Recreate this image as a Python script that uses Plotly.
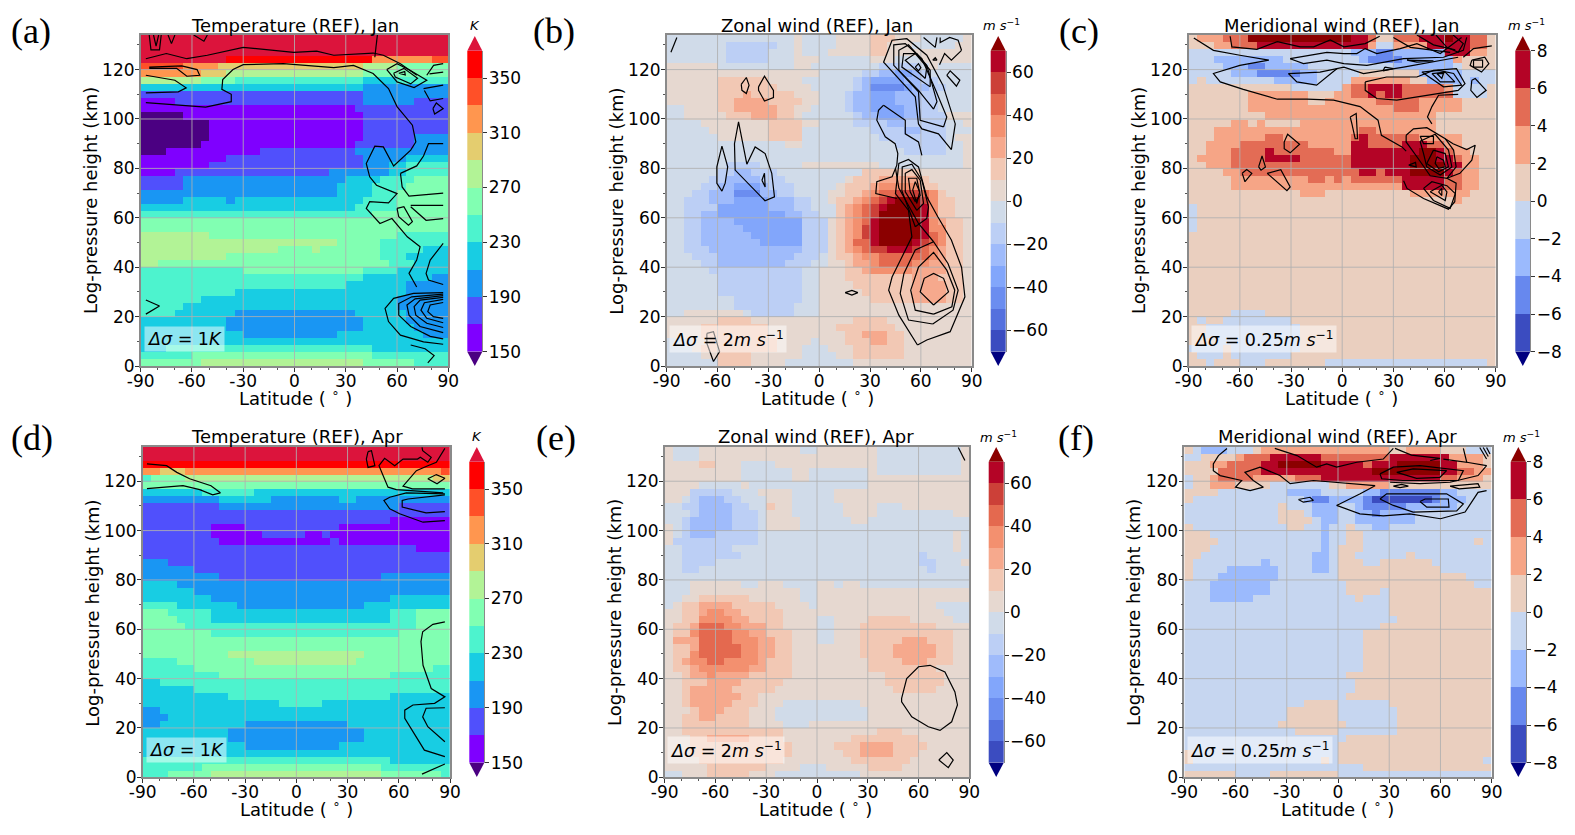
import numpy as np
import plotly.graph_objects as go

W, H = 1575, 835
LATS = [-87.5 + 5 * i for i in range(36)]
DZ = 134 / 47
HEIGHTS = [(k + 0.5) * DZ for k in range(47)]
LAT_TICKS = [-90, -60, -30, 0, 30, 60, 90]
KM_TICKS = [0, 20, 40, 60, 80, 100, 120]

# Each row: value, lat where it ends, value, lat where it ends, ..., last value. Bottom row first.
T_JAN = [
[260,-55,280,40,260,70,240],[240,-60,260,45,240],[220,-75,240,45,220],[220],[220,-30,200,25,220,75,200],
[220,-40,200,40,220,70,200],[220,-40,200,40,220,65,200],[240,-70,220,-35,200,35,220,65,200],[240,-65,220,60,200],
[240,-55,220,60,200],[240,-35,220,65,200],[240,30,220,65,200],[240,40,220,80,200],[240,-30,260,40,240,60,220],
[280,-80,260,55,240,70,220],[280,-40,260,50,240,65,220],[280,-10,260,10,280,15,260,50,240,75,220],[280,25,260,50,240],
[280,-50,260,60,240],[260],[260],[240,45,260],[220,35,240,60,260],[200,-65,220,-40,200,-35,220,40,240,60,260],
[200,25,220,45,240,60,260],[180,-65,200,25,220,45,240,65,260],[180,-65,200,30,220,50,240,70,260],
[160,-70,180,20,200,55,220,65,240],[160,-50,180,40,200,55,220,65,240],[160,-40,180,40,200,65,220],
[140,-75,160,-20,180,35,200],[140,-55,160,35,180,70,200],[140,-50,160,40,180,70,200],[140,-50,160,40,180],
[140,-50,160,40,180],[140,-65,160,40,180],[160,35,180],[160,-70,180,40,200,70,180],[180,40,200],[220,40,200],
[280,-55,260,-35,240,40,220,60,240],[320,-55,300,-40,280,40,260],[340,-65,320,-45,300,40,280,60,260],
[380,-40,360,45,320,80,340],[380],[380],[380],
]
U_JAN = [
[-5,-60,15,-40,5,-20,-5,20,5],[-5,-70,5,-60,15,-40,5,-10,-5,10,5,20,15,50,5],[-5,-75,5,-70,15,-25,5,-10,-5,5,5,20,15,50,5],
[-5,-75,5,-65,15,-25,5,-5,-5,0,5,15,15,30,25,40,15,50,5],[5,-70,15,-30,5,15,15,25,25,40,15,50,5],[5,-70,15,-30,5,10,15,45,5],
[5,-60,15,-40,5,20,15,40,5],[-5,-80,5,-45,-5,-40,-15,-15,-5,0,5],[-5,-50,-15,-15,-5,0,5],
[-5,-50,-15,-10,-5,0,5,30,15,55,25,75,15,85,5],[-5,-60,-15,-10,-5,0,5,25,15,55,25,75,15,85,5],
[-5,-60,-15,-10,-5,0,5,20,15,55,25,75,15,85,5],[-5,-60,-15,-10,-5,0,5,15,15,55,25,70,15,85,5],
[-5,-65,-15,-10,-5,0,5,15,15,25,25,30,35,55,25,75,15,85,5],
[-5,-70,-15,-60,-25,-20,-15,-5,-5,5,5,15,15,20,25,30,35,35,45,55,35,65,25,75,15,85,5],
[-5,-75,-15,-60,-25,-15,-15,0,-5,5,5,10,15,20,25,25,35,35,45,65,35,70,25,75,15,85,5],
[-5,-80,-15,-65,-25,-10,-15,5,5,10,15,15,25,20,35,25,45,30,55,40,65,55,55,60,45,65,35,70,25,75,15,85,5],
[-5,-80,-15,-70,-25,-35,-35,-10,-15,5,5,10,15,15,25,20,45,30,65,35,75,55,65,60,55,65,45,70,35,75,15,85,5],
[-5,-80,-15,-70,-25,-40,-35,-10,-15,5,5,10,15,15,25,20,35,25,55,30,65,35,75,60,65,65,45,70,35,75,15,85,5],
[-5,-80,-15,-70,-25,-45,-35,-10,-15,5,5,10,15,15,25,20,35,25,55,30,65,35,75,60,65,65,35,75,15,85,5],
[-5,-80,-15,-70,-25,-50,-35,-10,-15,5,5,10,15,15,25,20,35,25,45,30,65,35,75,60,65,65,35,70,25,75,15,85,5],
[-5,-80,-15,-70,-25,-60,-35,-20,-25,-10,-15,0,-5,10,15,15,25,20,35,25,45,30,55,35,75,60,65,65,35,70,15,80,5],
[-5,-80,-15,-60,-35,-30,-25,-15,-15,-5,-5,10,15,15,25,20,35,25,45,30,55,35,65,40,75,60,65,65,35,70,15,80,5],
[-5,-80,-15,-65,-25,-50,-35,-30,-25,-15,-15,-5,-5,5,5,10,15,20,25,25,35,30,45,35,55,40,65,45,75,60,55,65,35,70,15,80,5],
[-5,-75,-15,-65,-25,-50,-45,-35,-25,-25,-15,-15,-5,5,5,15,15,25,25,30,35,35,45,45,55,60,45,65,35,70,15,75,5],
[-5,-70,-15,-60,-25,-50,-35,-35,-25,-30,-15,-15,-5,10,5,15,15,30,25,35,35,60,15,70,5],
[-5,-65,-15,-55,-25,-35,-15,-20,-5,15,5,20,15,35,25,60,15,65,5],[-5,-60,-15,-50,-25,-40,-15,-25,-5,25,5,25,15,60,5],
[-5,-55,-15,-35,-5,-10,5,35,-5,85,5],[-5,85,5],[-5,50,-15,75,-5,85,5],[-5,-20,5,-10,-5,45,-15,75,-5,85,5],
[-5,-60,5,-30,15,-10,-5,35,-15,75,-5,80,5],[-5,-65,5,-30,15,-10,-5,30,-15,50,-25,60,-15,75,-5],
[-5,-70,5,-30,15,-10,5,0,-5,20,-15,40,-25,50,-15,75,-5,85,5],[-5,-80,5,-55,15,-40,25,-25,15,-15,5,-10,-5,20,-15,25,-25,35,-35,50,-25,60,-15,75,5],
[-5,-80,5,-60,15,-50,25,-25,15,-15,5,-5,-5,15,-15,20,-25,30,-35,50,-25,60,-15,70,-5],
[5,-60,15,-50,25,-30,15,-10,5,0,-5,15,-15,20,-25,30,-35,45,-25,60,-15,70,-5],
[5,-60,15,-45,25,-40,15,-15,5,0,-5,15,-15,20,-25,30,-35,45,-25,60,-15,70,-5],
[5,-60,15,-25,5,-5,-5,20,-15,25,-25,30,-45,50,-35,55,-25,65,-15,75,-5],
[5,-60,15,-30,5,-10,-5,20,-15,25,-25,30,-35,50,-25,60,-15,70,-5],[5,0,-5,25,-15,35,-25,45,-35,55,-25,60,-15,65,-5],
[5,-60,-5,-15,5,-5,-5,35,-15,60,-5,65,5,70,-5],[-5,-55,-15,-30,-5,-15,5,0,-5,30,5,45,-5,60,5],
[-5,-55,-15,-30,-5,-15,5,-10,-5,5,5,30,15,40,5],[-5,-55,-15,-25,-5,-15,5,-10,-5,10,5,30,15,40,5,55,-5,80,5],
[-5,-15,5,-10,-5,10,5,30,15,45,5,60,-5,85,5],
]
V_JAN = [
[1,-80,-1,-75,1,-60,-1,-45,1,-10,-1,85,1],[1,-85,-1,-70,1,-65,-1,-30,1],[-1,-70,1,-65,-1,-25,1],[1,-75,-1,-25,1],[1,-80,-1,-25,1],
[1,-80,-1,-25,1],[1,-85,-1,-80,1,-70,-1,-30,1],[1,-65,-1,-45,1],[1],[1],[1],[1],[1],[1],[1],[1],[1],[1],[1],
[-1,-85,1],[-1,-85,1],[-1,-85,1],[-1,-85,1],[1,65,3,70,1],[1,-25,3,-10,1,40,3,75,1],[1,-65,3,35,7,60,5,70,3,80,1],
[1,-65,3,-20,5,-10,3,-5,5,0,3,5,5,35,7,60,5,70,3,80,1],[1,-70,3,-60,5,10,7,20,5,25,7,40,9,60,7,65,5,70,3,80,1],
[1,-80,3,-65,5,5,7,40,9,60,7,70,3,80,1],[1,-85,3,-65,5,-45,7,-25,5,5,7,40,9,55,7,65,5,70,3,80,1],
[1,-80,3,-65,5,-45,7,-40,5,-5,3,5,7,45,9,55,7,60,5,65,3,75,1],[1,-80,3,-60,5,-20,3,5,7,15,5,35,7,50,5,60,3,70,1],
[1,-75,3,-45,5,-35,3,5,5,10,7,15,5,45,3,70,1],[1,-75,3,10,5,20,3,55,1],[1,-65,3,-55,1,-50,3,-45,1,-25,3,55,1],[1,-45,3,55,1],
[1,-55,3,30,5,45,3,70,1],[1,-55,3,-20,1,-10,3,20,5,45,3,70,1],[1,-55,3,-20,1,-5,3,5,5,15,7,20,5,25,7,35,5,65,-1,85,1],
[1,-30,-1,0,3,5,5,15,7,35,5,60,3,65,-1,85,1],[-1,-85,1,-80,-1,-40,-3,-15,-1,5,3,40,1,50,-3,70,-1,75,-3,80,-1],
[-1,-65,-3,-50,-5,-25,-3,-15,-1,10,1,45,-3,70,-1],[-1,-70,-3,-55,-5,-45,-3,-20,-1,30,-3,65,-1,70,1],
[-1,-75,-3,-35,-1,10,-3,15,-5,35,-3,65,3,70,1],[-1,5,-3,20,-5,30,-3,60,7,75,3,85,1],
[1,-75,3,-65,5,-50,7,15,3,20,-1,30,3,50,7,75,5,85,1],[1,-85,3,-70,5,-55,9,5,7,15,5,20,1,30,5,45,7,60,9,65,7,75,5,85,1],
]
T_APR = [
[240,-75,260,-50,280,50,260,85,240],[240,-55,260,50,240],[240,55,220],[220],[220,-30,200,25,220],[220,-40,200,40,220],[220,-40,200,40,220],
[200,-80,220,-30,200,30,220],[200,-75,220],[200,-80,220],[220,-10,240,15,220],[220,-40,240,55,220],[220,-60,240],[220,-80,240],
[240,-45,260,55,240],[240,-60,260,80,240],[240,-70,260,-25,280,35,260],[260,-40,280,40,260],[260],[260],[260,-50,240,60,260],
[260,-65,240,70,260],[260,-70,240,-50,220,55,240,70,260],[260,-75,240,-50,220,55,240,70,260],[240,-70,220,-35,200,40,220],
[220,-50,200,55,220],[220,-60,200],[220,-70,200],[200,-45,180,50,200],[200,-60,180],[200,-75,180],[180],[180,70,160],
[180,-45,160,20,180,25,160],[180,-50,160,-20,180,5,160,15,180,20,160],[180,-50,160,-30,180,25,160],[180,55,160],[180],
[180,-45,200,60,180],[200,-45,220,-15,200,25,220,35,200],[220,-55,240,-25,220],[260],[240,-85,260,-65,280,80,300],
[320,-80,300,-65,320,85,340],[360],[380],[380],
]
U_APR = [
[-5,-80,5,-65,15,-40,5,-25,-5,25,5],[5,-65,15,-30,5,-10,-5,5,5,30,15,50,5],[5,-70,15,-20,5,20,15,55,5],[5,-75,15,-15,5,15,15,25,25,45,15,60,5],
[5,-75,15,-15,5,10,15,25,25,45,15,65,5],[5,-75,15,-65,25,-40,15,-20,5,20,15,60,5],[5,-80,15,-20,5,35,15,50,5],[5,-80,15,-40,5,-20,-5,-5,5],
[5,-80,15,-70,25,-60,15,-40,5,-25,-5,30,5],[5,-75,15,-70,25,-55,15,-40,5,-25,-5,30,5],[5,-80,15,-75,25,-50,15,-35,5,-20,-5,25,5],
[5,-80,15,-75,25,-45,15,-35,5],[5,-80,15,-75,25,-50,15,-25,5,45,15,70,5],[5,-80,15,-65,25,-45,15,-20,5,40,15,75,5],
[5,-80,15,-75,25,-65,35,-60,25,-40,15,-15,5,40,15,75,5],[5,-85,15,-75,25,-70,35,-40,25,-30,15,-15,5,30,15,70,5],
[5,-85,15,-80,25,-75,35,-65,45,-55,35,-35,25,-30,15,-15,5,30,15,50,25,65,15,80,5],
[5,-85,15,-75,35,-70,45,-45,35,-35,25,-25,15,-15,5,25,15,45,25,70,15,80,5],[5,-85,15,-75,25,-70,45,-45,35,-35,25,-25,15,-15,5,25,15,45,25,70,15,80,5],
[5,-85,25,-70,45,-50,35,-35,25,-25,15,-15,5,0,-5,10,5,25,15,50,25,65,15,80,5],[5,-85,15,-75,35,-70,45,-50,35,-40,25,-30,15,-15,5,0,-5,10,5,25,15,80,5],
[5,-85,15,-75,25,-70,45,-55,35,-45,25,-30,15,-20,5,0,-5,10,5,25,15,70,5],[5,-80,15,-70,35,-50,25,-40,15,-20,5,0,-5,10,5,30,15,55,5,80,-5],
[5,-80,15,-70,25,-65,35,-55,25,-45,15,-20,5,75,-5],[-5,-85,5,-80,15,-70,25,-50,15,-25,5,-5,-5,0,5,70,-5],[-5,-80,5,-70,15,-40,5,-10,-5,0,5],
[-5,-75,5,-10,-5,0,5],[-5,-75,5,-45,-5,-35,5,-20,-5,0,5,10,-5,15,5,25,-5],[-5],[-5,-80,-15,-70,-5,65,-15,70,-5],[-5,-80,-15,-60,-5,60,-15,70,-5,85,5],
[-5,-80,-15,-45,-5,60,-15,65,-5],[-5,-80,-15,-50,-5,80,5,85,-5],[5,-85,-15,-35,-5,80,5,85,-5],[5,-85,-5,-80,-15,-75,-25,-60,-15,-35,-5,80,5,85,-5],
[5,-85,-5,-80,-15,-75,-25,-50,-15,-35,-5,-30,5,-10,-5],[-5,-80,-15,-75,-25,-50,-15,-35,-5,-30,5,-10,-5,20,5,30,-5],
[-5,-75,-15,-70,-25,-50,-15,-35,-5,-30,5,-15,-5,15,5,35,-5,80,5],[-5,-80,-15,-70,-25,-50,-15,-40,-5,-30,15,-25,5,-15,-5,15,5,35,-5,50,5],
[5,-80,-5,-75,-15,-70,-25,-55,-15,-45,-5,-30,5,-15,-5,10,5],[5,-75,-15,-50,-5,-35,5,-15,-5,10,5],[5,-70,-5,-45,5,-40,-5,30,5],
[5,-45,-5,-15,5,-5,-5,30,5],[5,-45,-5,-15,5,-5,-5,30,5,35,-5,85,5],[5,-70,15,-60,5,-45,-5,-25,5,35,-5,85,5],[5,-85,-5,-70,5,35,-5,85,5],
[5,-85,-5,-70,5,-10,-5,0,5,35,-5,85,5],
]
V_APR = [
[1,-60,-1,-40,1,0,-1],[-1,15,1],[1,-85,-1,-10,1,-5,-1,0,1,85,-1],[1,-85,-1,0,1],[-1,0,1],[-1,5,1],[-1,-25,1,0,-1,35,1],[-1,-35,1,5,-1,35,1],
[-1,-30,1,0,-1,35,1],[-1,-30,1,0,-1,35,1],[-1,-20,1,0,-1,30,1],[-1,5,1],[-1,10,1],[-1,10,1],[-1,5,1],[-1,15,1],[-1,15,1],[-1,15,1],[-1,15,1],
[-1,15,1],[-1,15,1],[-1,25,1],[-1,35,1],[-1,30,1],[-1,30,1],[-1,-75,-3,-50,-1,10,1,15,-1,30,1],[-1,-75,-3,-40,-1,5,1,25,-1,30,1],
[-1,-75,-3,-40,-1,5,1,80,-1],[1,-85,-1,-70,-3,-35,-1,0,1,75,-1],[1,-85,-1,-65,-3,-35,-1,-15,-3,-5,-1,0,1,60,-1],
[1,-85,-1,-45,-3,-40,-1,-15,-3,-5,-1,0,1,15,-1,25,1,55,-1],[1,-80,-1,-15,-3,-5,-1,0,1,10,-1,40,1,45,-1],[1,-75,-1,-10,-3,-5,-1,0,1,15,-1],
[1,-70,-1,-10,-3,-5,-1,5,1,15,-1,80,1,85,-1],[1,-75,-1,-10,-3,-5,-1,5,1,15,-1],[1,-85,-1,-30,1,-20,-1,-10,-3,-5,-1,5,1,10,-1,20,-3,30,-1],
[-1,-35,1,-15,-1,-10,-3,0,-1,10,-3,45,-1],[-1,-35,1,-20,-1,-15,-3,0,-1,10,-3,20,-5,25,-3,45,-1],[-1,-35,1,-30,-1,-15,-3,0,-1,10,-3,15,-5,40,-3,70,-1],
[1,-85,-1,-20,-3,-15,-5,-5,-3,15,-5,20,-7,55,-5,60,-3,75,-1],[1,-70,-1,-30,-3,-10,-1,15,-3,25,-5,60,-3,70,-1],
[-1,-85,1,-75,3,-60,1,-40,-1,-5,1,5,3,30,1],[-1,-85,1,-75,3,-70,5,-50,3,-25,5,-10,7,60,5,70,3,85,1],[1,-70,5,-45,7,20,9,60,7,70,5,80,3],
[1,-75,3,-65,5,-45,7,-35,9,-10,7,15,5,20,7,35,9,60,7,70,3,85,1],[-1,-80,1,-60,3,-55,5,-40,7,-10,5,30,7,65,3,85,1],
[1,-85,-1,-80,-3,-65,-1,-50,1,-45,3,30,1,40,3,60,1,75,-1],
]

# Contour lines: (latitude, height km) pairs.
T_JAN_LINES = [
[(-87,106.6),(-69,105.6),(-52,104.8),(-37,107),(-37,110),(-42.5,112),(-42,116),(-36,120),(-30,122),(-6.5,122.4),(23,120.8),(34.5,121.7),(46,118.4),(55,112.3),(60,105),(69,97.5),(71,90.7),(68,87.4),(58,81),(52,88.7),(47,89),(42,82),(44,76.6),(48,73.2),(60,69.8),(55,66),(44,66.5),(42,63.8),(50,57.7),(57,59.7),(66,52.3),(73.5,48.3),(71.5,42.9),(67,37.5),(71.5,32)],
[(-87,124.4),(-75,126.5),(-63,124.4),(-51,125.8),(-30,129),(-0.5,127),(13,127.5),(23,125.8),(46,126.7),(52,125.8),(62,122.4),(71.6,117.7)],
[(48.5,134),(47,125)],
[(-85,121),(-66,121.5),(-57,120),(-55.5,117.7),(-63,117.3),(-69,120.5),(-85,120.5)],
[(-87,117.7),(-70,115.7),(-63.4,112.6),(-68,111),(-87,110.6)],
[(-85,134),(-84,128),(-79,128),(-78,134)],[(-82.5,134),(-81,129.5),(-79.5,134)],[(-74,134),(-72,130.5),(-70,134)],[(-59,134),(-53,131.5),(-51,134)],
[(54,120),(60,122.4),(67.6,119.7),(77.4,115.7),(70,112.7),(60,115),(54,120)],
[(58,118.5),(64,120.5),(72,116.5),(68,114.2),(59,117),(58,118.5)],[(61,118.5),(64.5,119.2),(64.8,117.8),(61,118.5)],
[(75.5,112.3),(87,113.7)],[(87,108.3),(79.4,107.3),(76,111.5)],[(81,104.2),(83,106.5),(87,104.2),(82,102),(81,104.2)],
[(77.4,117.7),(81.4,121.7),(87,122.4)],[(87,119),(79,118.3)],
[(62,78),(71.5,81),(75.5,85),(78.4,90),(87,90)],[(62,78),(63,72.5),(67,68.8),(87,70)],
[(68,65),(87,65)],[(68,64.5),(77,59),(87,59.7)],[(60,63.8),(64,64.5),(69,58.4),(66.7,57),(61,60.4),(60,63.8)],
[(87,49.6),(79.4,42.9),(77,37.5),(78.4,34.8),(87,33)],
[(87,29.7),(69.6,29.4),(58,27.4),(53,23.3),(55,18),(62,12.5),(75.5,9.8),(87,8.8)],
[(87,29.1),(68.6,28),(61,25.3),(61,20.6),(68,16),(79.4,12),(87,11)],
[(87,28.5),(70.6,27.2),(65.8,24.7),(67,20.6),(73.5,16),(87,13.5)],
[(87,27.8),(73.5,26.7),(70,24),(71,20.6),(77.4,17.3),(87,15.6)],
[(87,27),(76,25.6),(74,22.6),(77.4,19.3),(87,17.5)],
[(87,25.7),(79.4,24.7),(78,22),(81.3,20),(87,19.3)],
[(-87,26.7),(-79,24.3),(-87,21)],[(78,1.3),(81.7,4.2),(76.4,7),(68,8.5)],
]
U_JAN_LINES = [
[(58,8.5),(63.5,10.5),(77.3,13.9),(86,28),(84,40),(78,51),(70,60.4),(63.5,68.5),(58.6,80.6),(52.7,83.6),(47,82),(45,69.8),(52.7,63),(54.7,52.3),(43,36),(41,30.7),(47,20.6),(58,8.5)],
[(67,17),(52.7,18.6),(47.8,29.4),(50,37.5),(56.7,47),(67.5,50.3),(76,41.5),(82,30.7),(79,22.6),(67,17)],
[(67.5,21),(56.7,22.6),(54,30.7),(58.6,40),(67.5,46),(75.3,38.8),(80,30.7),(78.3,24),(67.5,21)],
[(67.5,24.7),(59.6,30),(62,35.5),(67.5,37.5),(73.4,35.5),(76.3,30),(67.5,24.7)],
[(67.5,50.3),(58.6,57.7),(47,72),(45,80)],
[(56.7,56.4),(63.5,59.7),(64.5,64.4),(60.6,75.2),(54.7,81.7),(49,80.6),(48.8,71),(56.7,56.4)],
[(57.6,63),(61.6,65.8),(59.6,75.2),(54.7,79.5),(50.8,78),(50.8,70.5),(57.6,63)],
[(56.7,66.5),(59.6,69),(57.6,76),(52.7,76),(53.7,70.5),(56.7,66.5)],
[(57.6,65.8),(59.3,70.5),(56.7,74.6),(55.2,71.3),(57.6,65.8)],
[(78,87.6),(80.3,98),(73,113.7),(63.5,125.8),(51.7,132.5),(43,131.9),(38,123),(46,117),(56.7,109),(58.6,98),(60.6,96),(70.4,94),(78,87.6)],
[(73.4,96.8),(75.3,100.8),(68.5,112),(60.6,124.4),(50.8,130.5),(44,130),(44,121.7),(58.6,111),(59.6,99.5),(73.4,96.8)],
[(67.5,104),(69.5,107),(63.5,121.7),(52.7,130),(47,127.8),(47,119.7),(58.6,111.6),(67.5,104)],
[(65.5,113),(65.5,119.7),(57.6,126.5),(49.8,126.5),(48.8,121),(65.5,113)],
[(62.6,116.4),(63.5,121),(56.7,126.5),(50.8,123.8),(62.6,116.4)],
[(56.7,121),(58.6,122.4),(60,120.8),(58.6,119.5),(56.7,121)],
[(38,105.6),(35,103.5),(34,99.5),(39,92.8),(44.8,90),(46.4,86),(45.8,81.3),(43,76.6),(34,74.6),(33.4,69.8),(45.8,67.8)],
[(38,105.6),(50.8,99.5),(50.8,94),(58.6,90.7),(60.6,85.3)],
[(-57.4,89),(-54,80.6),(-55.5,74),(-57.4,70.8),(-60.4,74),(-60.4,80.6),(-57.4,89)],
[(-47.6,98.8),(-45.6,91.4),(-42.7,81.7),(-37.8,88.7),(-31.9,86),(-28,78),(-26.4,68.5),(-32,66.9),(-49.6,79.3),(-50,90),(-47.6,98.8)],
[(-33.8,75.2),(-32.3,78),(-31.9,72.5),(-33.8,75.2)],
[(-46,114),(-43,116.8),(-41.4,113.7),(-43,110.3),(-45.6,111.6),(-46,114)],
[(-35.8,113),(-32.3,117.3),(-27,111.6),(-27,108.7),(-32.3,107.3),(-35.8,111.6),(-35.8,113)],
[(75.3,117.7),(77.3,119.5),(83,115.7),(81,113.3),(75.3,117.7)],
[(61.6,133),(68.5,129),(69.5,133)],[(84,127.8),(82,131.9),(77,133),(71.4,131),(71.4,133)],[(84,127.8),(78,123.8),(74,126.5),(71,122)],
[(67,123.8),(68.5,124.8),(69.5,123.8),(67,123.8)],[(-87.5,127),(-84,133)],
[(15.3,29.7),(19.3,30.6),(22.8,29.7),(19.3,28.7),(15.3,29.7)],
[(-66.3,13.2),(-62.4,13.9),(-58.8,5.8),(-62.4,1.8),(-66.3,9.2),(-66.3,13.2)],
]
V_JAN_LINES = [
[(-87,132.8),(-75.5,127.8),(-60,125.8),(-43,123.8),(-60,121.7),(-75.5,118.4),(-71.5,115),(-58,112),(-38,108),(-20.7,108),(-5,107.6),(10.5,105),(21,99.5),(23,93.4),(35,88.7),(37.5,87)],
[(37.5,93.4),(41.8,96),(49.6,96.5),(60.4,92),(65.3,87.4),(66.8,80.6),(61.4,76),(51.6,77),(43.8,84.7),(37.5,90.7),(37.5,93.4)],
[(45.7,91),(54.5,93.8),(62.3,87.4),(64.3,80.6),(57.5,77.3),(49.6,80.6),(47.7,86),(45.7,91)],
[(53.5,87.4),(60.4,86),(62.3,80.6),(56.5,78.6),(49.6,82),(53.5,87.4)],
[(55.5,84.7),(59.4,83.3),(60.4,80.6),(56.5,80),(54.5,82),(55.5,84.7)],
[(45.7,93),(53.5,93),(53.5,90),(47.7,90),(45.7,93)],
[(47.7,71.9),(52.6,74.6),(61.4,73),(66.3,69.8),(63.3,63.8),(53.5,67),(47.7,71.9)],
[(36,75),(38,71.9),(47.7,67.8),(62.3,63.5),(66,66.5),(66.8,74),(61.4,76)],
[(51.6,70.5),(58.4,73.2),(61.4,70.5),(60.4,67),(51.6,70.5)],[(56.5,70.5),(58.4,71.9),(58.4,69),(56.5,70.5)],
[(61.4,76),(69,78),(76,83.3),(78,89.4),(73,87.6),(65,90),(60.4,92)],
[(52.6,98),(50,100.8),(52.6,105),(56.5,109.6),(68,110)],
[(-30.5,124.4),(-19.7,125.8),(-9,127),(1,126.5),(8.6,126.5),(13.5,128.5),(20.3,126.5),(34,128.5),(43.8,130.5),(57.5,126.5),(70,133)],
[(-30.5,124.4),(-22.7,122.4),(-9,123.8),(1,122.4),(14.5,121.7),(36,124.4),(59.4,125),(71,127.8),(73,133)],
[(-31.5,118.4),(-13,119),(1,121),(12.5,118.4),(36,121),(59.4,123.8),(68,125)],
[(-31.5,118.4),(-26.6,115),(-15,113.7),(-3,120.4)],[(25,121),(30,120.4),(24,119.5),(25,121)],[(38,123.8),(53.5,123.5),(43.8,123),(38,123.8)],
[(-65.7,133.5),(-64.7,129.2),(-50,128.2),(-38,131.3),(-24.6,129.2),(-16.7,129.2),(-7,132),(1,129.2),(13.5,130.5),(22,133.5)],
[(30,133),(40,129),(63.3,127)],[(43.8,134),(53.5,130),(66.3,128)],[(55,134),(61.4,129),(68,127),(71,130.5),(65,134)],
[(76,123.8),(83.6,125),(86,122.4),(81.7,119),(75,121.7),(76,123.8)],[(77,123.8),(82.3,123.8),(82.3,121),(77,121),(77,123.8)],
[(71,125),(77,128.5),(87.7,129.6)],
[(13.5,115),(26,117),(43.8,117),(53.5,119.7),(67,120.4),(72,114.3),(68,111.6),(55.5,110.3),(32,107.6),(20.3,108.3),(13.5,111.6),(13.5,115)],
[(46.7,119),(56.5,119.7),(65.3,118.4),(70,113.7),(59.4,113),(46.7,119)],[(52.6,118.4),(60.4,119),(66,115),(57.5,115),(52.6,118.4)],
[(55.5,118.4),(59.4,118.4),(58.4,116.4),(55.5,118.4)],
[(76,115.7),(78,116.4),(84.4,111.6),(79,108.7),(75.4,111.6),(76,115.7)],
[(4.7,100.8),(8.2,102.2),(9,92),(7.6,92),(5.7,98),(4.7,100.8)],
[(-34,90.7),(-32,93.8),(-25,89.8),(-30.5,86.3),(-34,88),(-34,90.7)],[(-49,80.6),(-47,85),(-45,80.6),(-47.6,79.3),(-49,80.6)],
[(-58.6,78),(-56,79.5),(-53,78),(-57,74.6),(-58.6,78)],[(-44,78),(-36,79.5),(-30.5,72.5),(-32.4,71),(-44,78)],
[(39,81.3),(43,82.4),(43.4,80.6),(39,81.3)],
]
T_APR_LINES = [
[(-87.5,127),(-76,126.3),(-70,123.6),(-62.5,121),(-50,118.2),(-44.5,115.3),(-49,114.5),(-56.6,116.6),(-66.4,118.2),(-87.5,117)],
[(42,132),(44,132.4),(46,126.3),(42,125.6),(41,129),(42,132)],
[(73.6,133.7),(74,132.4),(79,129.7),(77,127.7),(72.6,129.7),(71,129),(62.5,129),(57.6,126.3),(51.7,129.3),(48.4,126.3),(50.8,122.3),(53.7,117.6),(58.6,116.6),(86,115.3)],
[(87,133.3),(82,127.7),(77,126.3),(70.3,124.3),(62.5,118),(68,116.9),(87,116.9)],
[(77,121),(82,122.7),(87,121.2),(82.4,119),(77,121)],
[(87,114.9),(64.4,115.3),(54.7,113.5),(51.3,112.2),(54.7,108.8),(60.5,106.8),(74.2,103.4),(87,104)],
[(87,114.5),(65.4,112.8),(62,112.2),(62,109.5),(76,107.2),(87,107.7)],
[(87,63),(80,62),(74,59),(73,55),(74.2,45.4),(79,36),(87,32.6),(81,30),(68.3,29.3),(63.5,27.2),(63.5,23.9),(68.3,18.5),(75,11),(87,8.4)],
[(87,28.2),(76,28),(74,24.5),(77,20.5),(87,14.4)],[(73.6,1.3),(87,5.4)],
]
U_APR_LINES = [
[(50,32),(53,40),(60,44.8),(66.8,45.4),(75.6,42.7),(81.5,34.6),(83,29.3),(79.6,22.5),(72.7,19),(65.8,20.5),(56,24.5),(50,30.6),(50,32)],
[(72,7),(76.7,10),(80.5,7),(77.6,3.9),(72,7)],[(83.5,133.7),(87.4,128.4)],
]
V_APR_LINES = [
[(-65,133.3),(-70,130.4),(-73,127),(-73,124.3),(-69,122.3),(-56.4,120.3),(-60,117.6),(-51.5,116.2),(-43.7,117.6),(-49.6,120.3),(-54.5,123.6),(-45.7,125.7),(-34,122.3),(-28,119),(-14.4,120.3),(21.7,118.2),(13,114.9),(3,111.5),(-0.8,110.2),(12.8,106.8),(26.5,106),(42,106.8),(60,104.8),(74.4,107.5),(82,115.5),(87,116.2)],
[(-37,133.3),(-24,130.4),(-12.5,125.7),(-6.6,127),(-0.8,125.7),(11,127.7),(26.5,129),(32.4,133.3)],
[(33.4,133.3),(43,130.6),(59.7,129.3),(54,128.4)],[(73.4,133.3),(75.4,127.7),(61.7,129)],
[(75.4,127.7),(87,126.3),(82,122.3),(65.6,119.6),(48,119),(30.5,119.6)],
[(24.6,123),(32.4,125.7),(48,126.3),(73.4,124.3),(70.5,120.3),(38,120.3),(25.6,121),(24.6,123)],
[(34.4,123.6),(44,125),(63.6,124.3),(59.7,121.6),(46,121.2),(34.4,123.6)],
[(24.6,112.8),(28.5,114.9),(63.6,114.9),(73.4,110.8),(69.5,108),(44,107.5),(32.4,110.2),(24.6,112.8)],
[(48,111.8),(51,112.8),(64.6,112.8),(65,109.5),(52,109.5),(48,111.8)],
[(-23.2,112.6),(-16.4,113.5),(-14.4,112.2),(-20.3,111.5),(-23.2,112.6)],[(32.4,118),(37.3,118.7),(41.2,118),(36.3,117.4),(32.4,118)],
[(65.6,118),(82,119),(83,117.6),(71,116.9),(65.6,118)],[(83,133.7),(87,129)],[(85,133.7),(88,130)],[(87,133.7),(89,131)],
]

T_COLORS = ['#4b0082','#7f00ff','#5050fc','#1996f3','#18cde3','#4df3ce','#81ffb2','#b2f396','#e4cd6f','#ff964f','#ff5028','#ff0000','#dc143c']
U_COLORS = ['#000080','#3b4cc0','#5470de','#6b8df0','#82a6fb','#9fbbfb','#bccff5','#d0dbe9','#e6d8d0','#f2c8b4','#f6a98d','#f3906f','#e4694f','#cc4038','#b40426','#8b0000']
V_COLORS = ['#000080','#3b4cc0','#6788ee','#9bbafd','#c6d6f0','#eacfbf','#f6a586','#e36c55','#b40426','#8b0000']

UNIT = '<i>m s</i><sup>−1</sup>'
PANELS = [
 dict(letter='(a)', title='Temperature (REF), Jan', rows=T_JAN, lines=T_JAN_LINES, colors=T_COLORS, lo=150, step=20, ticks=[150,190,230,270,310,350], note='<i>Δσ</i> = 1<i>K</i>', unit='<i>K</i>',
      box=(140.7,448.3,35,366), cb=(467.3,482.3,50.7,351.7,36,366), ylab=90, xc=295, yt=25, ylc=201, xly=397, lx=31, ly=31, note_c=(184,339), ucx=475, uy=25),
 dict(letter='(b)', title='Zonal wind (REF), Jan', rows=U_JAN, lines=U_JAN_LINES, colors=U_COLORS, lo=-70, step=10, ticks=[-60,-40,-20,0,20,40,60], note='<i>Δσ</i> = 2<i>m s</i><sup>−1</sup>', unit=UNIT,
      box=(666.7,971.7,35,366), cb=(990.7,1005.7,50.7,351.7,36,366), ylab=615.7, xc=817, yt=25, ylc=201, xly=397, lx=554, ly=31, note_c=(728,339), ucx=1001.7, uy=25),
 dict(letter='(c)', title='Meridional wind (REF), Jan', rows=V_JAN, lines=V_JAN_LINES, colors=V_COLORS, lo=-8, step=2, ticks=[-8,-6,-4,-2,0,2,4,6,8], note='<i>Δσ</i> = 0.25<i>m s</i><sup>−1</sup>', unit=UNIT,
      box=(1188.7,1495.7,35,366), cb=(1515.3,1530.3,50.7,351.7,36,366), ylab=1138, xc=1341, yt=25, ylc=201, xly=397, lx=1079, ly=31, note_c=(1264,339), ucx=1526.7, uy=25),
 dict(letter='(d)', title='Temperature (REF), Apr', rows=T_APR, lines=T_APR_LINES, colors=T_COLORS, lo=150, step=20, ticks=[150,190,230,270,310,350], note='<i>Δσ</i> = 1<i>K</i>', unit='<i>K</i>',
      box=(142.7,450,446.7,777.3), cb=(469.3,484.3,461.7,762.7,447,777), ylab=91.7, xc=296.7, yt=436.7, ylc=613, xly=808, lx=32, ly=438, note_c=(186,750), ucx=476.7, uy=436.7),
 dict(letter='(e)', title='Zonal wind (REF), Apr', rows=U_APR, lines=U_APR_LINES, colors=U_COLORS, lo=-70, step=10, ticks=[-60,-40,-20,0,20,40,60], note='<i>Δσ</i> = 2<i>m s</i><sup>−1</sup>', unit=UNIT,
      box=(664.7,969.3,446.7,777.3), cb=(988.7,1003.7,461.7,762.7,447,777), ylab=614, xc=815.7, yt=436.7, ylc=613, xly=808, lx=556, ly=438, note_c=(726,750), ucx=999, uy=436.7),
 dict(letter='(f)', title='Meridional wind (REF), Apr', rows=V_APR, lines=V_APR_LINES, colors=V_COLORS, lo=-8, step=2, ticks=[-8,-6,-4,-2,0,2,4,6,8], note='<i>Δσ</i> = 0.25<i>m s</i><sup>−1</sup>', unit=UNIT,
      box=(1184.3,1491.7,446.7,777.3), cb=(1510.7,1526,461.7,762.7,447,777), ylab=1133, xc=1337, yt=436.7, ylc=613, xly=808, lx=1076, ly=438, note_c=(1260,750), ucx=1521.7, uy=436.7),
]

def expand(rows):
    z = []
    for row in rows:
        out = []
        for lat in LATS:
            val = row[-1]
            for j in range(0, len(row) - 1, 2):
                if lat < row[j + 1]:
                    val = row[j]
                    break
            out.append(val)
        z.append(out)
    return z

def scale(colors):
    n = len(colors)
    cs = []
    for i, c in enumerate(colors):
        cs += [[i / n, c], [(i + 1) / n, c]]
    return cs

def px(x): return x / W
def py(y): return 1 - y / H

FONT = 'DejaVu Sans'
fig = go.Figure()
layout = dict(width=W, height=H, margin=dict(l=0, r=0, t=0, b=0, pad=0, autoexpand=False), paper_bgcolor='white', plot_bgcolor='white',
              showlegend=False, font=dict(family=FONT, color='black', size=17), annotations=[], shapes=[])
SPINE = '#8a8a8a'

def ann(x, y, text, size=17, angle=0, family=FONT, **kw):
    layout['annotations'].append(dict(x=px(x), y=py(y), xref='paper', yref='paper', text=text, showarrow=False,
        font=dict(family=family, size=size, color='black'), textangle=angle, xanchor='center', yanchor='middle', **kw))

for i, p in enumerate(PANELS):
    a = 2 * i + 1
    b = 2 * i + 2
    xa, ya = f'x{a}', f'y{a}'
    xb, yb = f'x{b}', f'y{b}'
    x0, x1, y0, y1 = p['box']
    n = len(p['colors'])
    zmin = p['lo'] - p['step']
    zmax = zmin + n * p['step']
    fig.add_trace(go.Heatmap(x=LATS, y=HEIGHTS, z=expand(p['rows']), zmin=zmin, zmax=zmax, colorscale=scale(p['colors']),
                             showscale=False, xaxis=xa, yaxis=ya, hoverinfo='skip'))
    gx, gy = [], []
    for t in LAT_TICKS[1:-1]:
        gx += [t, t, None]; gy += [0, 134, None]
    for t in KM_TICKS[1:]:
        gx += [-90, 90, None]; gy += [t, t, None]
    fig.add_trace(go.Scatter(x=gx, y=gy, mode='lines', line=dict(color='rgba(176,176,176,0.85)', width=1), xaxis=xa, yaxis=ya, hoverinfo='skip'))
    for ln in p['lines']:
        fig.add_trace(go.Scatter(x=[q[0] for q in ln], y=[q[1] for q in ln], mode='lines', line=dict(color='black', width=1.2),
                                 xaxis=xa, yaxis=ya, hoverinfo='skip'))
    layout[f'xaxis{a}'] = dict(domain=[px(x0), px(x1)], range=[-90, 90], anchor=ya, tickvals=LAT_TICKS, ticktext=[str(t) for t in LAT_TICKS],
        ticks='outside', ticklen=4, tickcolor='#333', tickfont=dict(size=17), ticklabelstandoff=-5, showgrid=False, zeroline=False, showline=True, linecolor=SPINE, linewidth=1.5, mirror=True,
        minor=dict(tickvals=list(range(-80, 90, 10)), ticks='outside', ticklen=2, tickcolor='#555'))
    layout[f'yaxis{a}'] = dict(domain=[py(y1), py(y0)], range=[0, 134], anchor=xa, tickvals=KM_TICKS, ticktext=[str(t) for t in KM_TICKS],
        ticks='outside', ticklen=4, tickcolor='#333', tickfont=dict(size=17), ticklabelstandoff=-3, showgrid=False, zeroline=False, showline=True, linecolor=SPINE, linewidth=1.5, mirror=True,
        minor=dict(tickvals=list(range(10, 134, 20)), ticks='outside', ticklen=2, tickcolor='#555'))
    # colour bar
    cx0, cx1, cy0, cy1, tip0, tip1 = p['cb']
    nb = n - 2
    band = [p['lo'] + (k + 0.5) * p['step'] for k in range(nb)]
    hi = p['lo'] + nb * p['step']
    fig.add_trace(go.Heatmap(x=[0, 1], y=band, z=[[v, v] for v in band], zmin=zmin, zmax=zmax, colorscale=scale(p['colors']),
                             showscale=False, xaxis=xb, yaxis=yb, hoverinfo='skip'))
    layout[f'xaxis{b}'] = dict(domain=[px(cx0), px(cx1)], range=[0.25, 0.75], anchor=yb, visible=False)
    layout[f'yaxis{b}'] = dict(domain=[py(cy1), py(cy0)], range=[p['lo'], hi], anchor=xb, side='right', tickvals=p['ticks'],
        ticktext=[str(t).replace('-', '−') for t in p['ticks']], ticks='outside', ticklen=4, tickcolor='#333', tickfont=dict(size=17), ticklabelstandoff=-2,
        showgrid=False, zeroline=False, showline=True, linecolor=SPINE, linewidth=1)
    mid = (cx0 + cx1) / 2
    for yb0, tip, col in [(cy0, tip0, p['colors'][-1]), (cy1, tip1, p['colors'][0])]:
        path = f'M {px(cx0)} {py(yb0)} L {px(cx1)} {py(yb0)} L {px(mid)} {py(tip)} Z'
        layout['shapes'].append(dict(type='path', path=path, xref='paper', yref='paper', fillcolor=col, line=dict(width=0)))
    ann(p['xc'], p['yt'], p['title'], size=18)
    ann(p['ylab'], p['ylc'], 'Log-pressure height (km)', size=18, angle=-90)
    ann(p['xc'], p['xly'], 'Latitude ( <sup>∘</sup> )', size=18)
    ann(p['lx'], p['ly'], p['letter'], size=36, family='Liberation Serif')
    ann(p['note_c'][0], p['note_c'][1], p['note'], size=17.5, bgcolor='rgba(255,255,255,0.5)', borderpad=2)
    ann(p['ucx'], p['uy'], p['unit'], size=13)

fig.update_layout(**layout)
fig.write_html('out.html', config={'displayModeBar': False}, post_script="document.body.style.margin='0';document.body.style.overflow='hidden';")
